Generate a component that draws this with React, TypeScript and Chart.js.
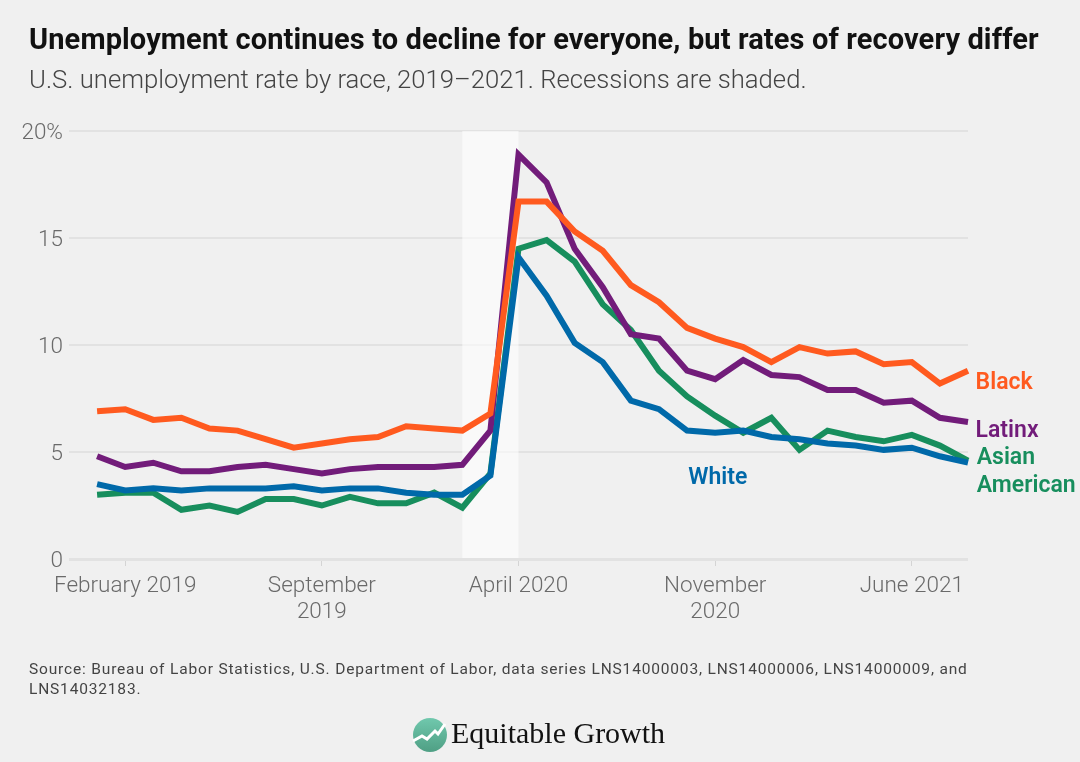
import React, { useEffect, useRef } from "react";
import { Chart, registerables } from "chart.js";

Chart.register(...registerables);

// x values are month indexes, 0 = January 2019
const months = [0,1,2,3,4,5,6,7,8,9,10,11,12,13,14,15,16,17,18,19,20,21,22,23,24,25,26,27,28,29,30,31];
const black = [6.9,7.0,6.5,6.6,6.1,6.0,5.6,5.2,5.4,5.6,5.7,6.2,6.1,6.0,6.8,16.7,16.7,15.3,14.4,12.8,12.0,10.8,10.3,9.9,9.2,9.9,9.6,9.7,9.1,9.2,8.2,8.8];
const latinx = [4.8,4.3,4.5,4.1,4.1,4.3,4.4,4.2,4.0,4.2,4.3,4.3,4.3,4.4,6.0,18.9,17.6,14.5,12.7,10.5,10.3,8.8,8.4,9.3,8.6,8.5,7.9,7.9,7.3,7.4,6.6,6.4];
const white = [3.5,3.2,3.3,3.2,3.3,3.3,3.3,3.4,3.2,3.3,3.3,3.1,3.0,3.0,3.9,14.1,12.3,10.1,9.2,7.4,7.0,6.0,5.9,6.0,5.7,5.6,5.4,5.3,5.1,5.2,4.8,4.5];
const asian = [3.0,3.1,3.1,2.3,2.5,2.2,2.8,2.8,2.5,2.9,2.6,2.6,3.1,2.4,4.0,14.5,14.9,13.9,11.9,10.7,8.8,7.6,6.7,5.9,6.6,5.1,6.0,5.7,5.5,5.8,5.3,4.6];

const tickMonths = [1, 8, 15, 22, 29];
const tickLabels: (string | string[])[] = ["February 2019", ["September", "2019"], "April 2020", ["November", "2020"], "June 2021"];
const recession = [13, 15];

const ORANGE = "#ff5a1f";
const PURPLE = "#721c7a";
const BLUE = "#0069a9";
const GREEN = "#178e5d";

const seriesLabels = [
  { text: "Black", x: 31.27, y: 8.23, color: ORANGE },
  { text: "Latinx", x: 31.27, y: 5.98, color: PURPLE },
  { text: "Asian", x: 31.31, y: 4.72, color: GREEN },
  { text: "American", x: 31.31, y: 3.41, color: GREEN },
  { text: "White", x: 21.04, y: 3.79, color: BLUE },
];

const toPoints = (vals: number[]) => vals.map((y, i) => ({ x: months[i], y }));

const recessionPlugin = {
  id: "recession",
  beforeDatasetsDraw(chart: any) {
    const { ctx, scales, chartArea } = chart;
    const a = scales.x.getPixelForValue(recession[0]);
    const b = scales.x.getPixelForValue(recession[1]);
    ctx.save();
    ctx.fillStyle = "rgba(255,255,255,0.6)";
    ctx.fillRect(a, chartArea.top, b - a, chartArea.bottom - chartArea.top - 1);
    ctx.restore();
  },
};

const labelPlugin = {
  id: "seriesLabels",
  afterDatasetsDraw(chart: any) {
    const { ctx, scales } = chart;
    ctx.save();
    ctx.font = "600 23px Roboto";
    ctx.textAlign = "left";
    ctx.textBaseline = "middle";
    for (const l of seriesLabels) {
      ctx.fillStyle = l.color;
      ctx.fillText(l.text, scales.x.getPixelForValue(l.x), scales.y.getPixelForValue(l.y));
    }
    ctx.restore();
  },
};

const line = (label: string, data: number[], color: string) => ({
  label,
  data: toPoints(data),
  borderColor: color,
  backgroundColor: color,
  borderWidth: 6,
  pointRadius: 0,
  tension: 0,
  borderJoinStyle: "miter" as const,
  clip: false as any,
});

export default function App() {
  const ref = useRef<HTMLCanvasElement>(null);
  useEffect(() => {
    const chart = new Chart(ref.current!, {
      type: "line",
      data: {
        datasets: [
          line("White", white, BLUE),
          line("Black", black, ORANGE),
          line("Latinx", latinx, PURPLE),
          line("Asian American", asian, GREEN),
        ],
      },
      plugins: [recessionPlugin, labelPlugin],
      options: {
        animation: false,
        responsive: false,
        devicePixelRatio: 1,
        layout: { padding: { top: 131, right: 112, left: 0, bottom: 0 } },
        plugins: { legend: { display: false }, tooltip: { enabled: false } },
        scales: {
          x: {
            type: "linear",
            min: -1,
            max: 31,
            afterBuildTicks(scale: any) {
              scale.ticks = tickMonths.map((value) => ({ value }));
            },
            afterFit(scale: any) {
              scale.height = 203;
            },
            border: { display: false },
            grid: { drawOnChartArea: false, drawTicks: true, tickLength: 7, color: "#d4d4d4", lineWidth: 1 },
            ticks: {
              autoSkip: false,
              maxRotation: 0,
              padding: 7,
              color: "#6a6a6a",
              font: { family: "Roboto", size: 22.5, weight: 300, lineHeight: 1.18 },
              callback(value: any) {
                return tickLabels[tickMonths.indexOf(Number(value))];
              },
            },
          },
          y: {
            min: 0,
            max: 20,
            afterFit(scale: any) {
              scale.width = 69;
            },
            border: { display: false },
            grid: {
              drawTicks: false,
              color: "#e2e2e2",
              lineWidth: (c: any) => (c.tick && c.tick.value === 0 ? 3 : 2),
            },
            ticks: {
              stepSize: 5,
              padding: 6,
              labelOffset: 2,
              color: "#6a6a6a",
              font: { family: "Roboto", size: 22.5, weight: 300 },
              callback(value: any) {
                return Number(value) === 20 ? "20%" : String(value);
              },
            },
          },
        },
      },
    } as any);
    return () => chart.destroy();
  }, []);

  const abs = (o: React.CSSProperties): React.CSSProperties => ({ position: "absolute", whiteSpace: "nowrap", margin: 0, ...o });

  return (
    <div style={{ position: "fixed", left: 0, top: 0, width: 1080, height: 762, background: "#f0f0f0", overflow: "hidden" }}>
      <canvas ref={ref} width={1080} height={762} style={{ position: "absolute", left: 0, top: 0 }} />
      <div style={abs({ left: 29, top: 21, font: "700 29px/36px Roboto", letterSpacing: 0.12, color: "#111" })}>
        Unemployment continues to decline for everyone, but rates of recovery differ
      </div>
      <div style={abs({ left: 29, top: 61, font: "300 25.7px/36px Roboto", color: "#444" })}>
        U.S. unemployment rate by race, 2019–2021. Recessions are shaded.
      </div>
      <div style={abs({ left: 29, top: 659, font: "400 15.5px/20px Roboto", letterSpacing: 0.83, color: "#444" })}>
        Source: Bureau of Labor Statistics, U.S. Department of Labor, data series LNS14000003, LNS14000006, LNS14000009, and
        <br />
        LNS14032183.
      </div>
      <svg width="36" height="36" viewBox="0 0 36 36" style={{ position: "absolute", left: 412, top: 717 }}>
        <defs>
          <linearGradient id="lg" x1="0" y1="0" x2="0" y2="1">
            <stop offset="0" stopColor="#70c8ad" />
            <stop offset="1" stopColor="#4f9f84" />
          </linearGradient>
        </defs>
        <circle cx="18" cy="18" r="17" fill="url(#lg)" />
        <polyline points="1,24 10,19 15,22 23,14 26,17 33,7" fill="none" stroke="#fff" strokeWidth="3" />
      </svg>
      <div style={abs({ left: 451, top: 714, font: "400 30px/38px 'Liberation Serif'", color: "#111" })}>Equitable Growth</div>
    </div>
  );
}
